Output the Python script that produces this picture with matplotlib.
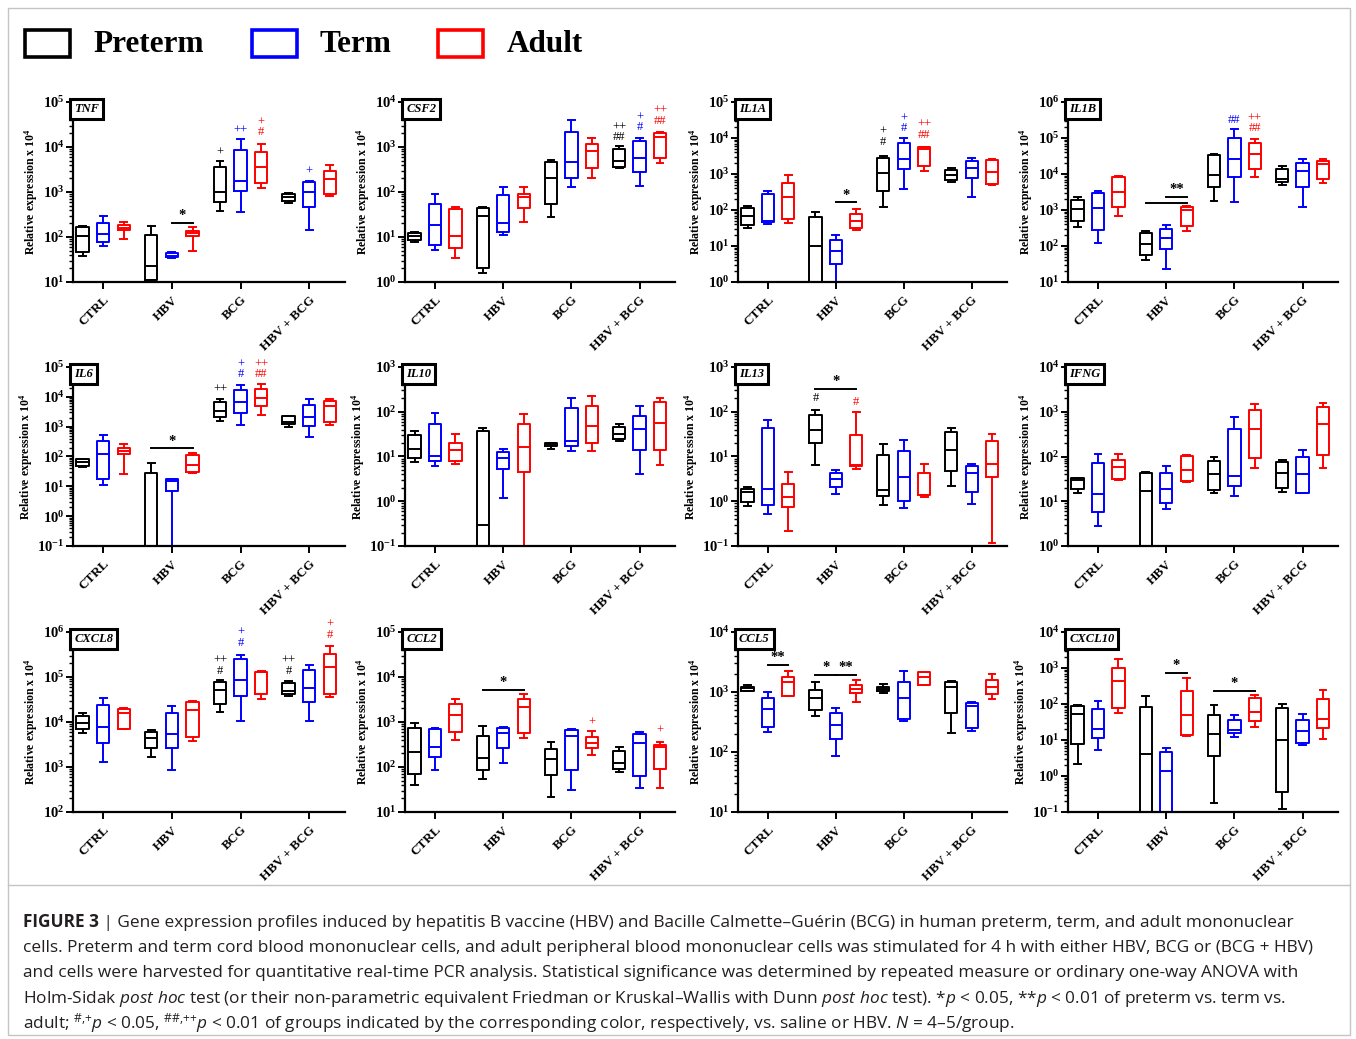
import numpy as np
import matplotlib
matplotlib.use('Agg')
import matplotlib.pyplot as plt
from matplotlib.ticker import LogLocator, FuncFormatter, NullFormatter
from matplotlib.patches import Rectangle
from matplotlib.lines import Line2D

plt.rcParams['font.family'] = ['Liberation Serif', 'DejaVu Serif']
plt.rcParams['mathtext.fontset'] = 'custom'
plt.rcParams['mathtext.rm'] = 'Open Sans'
plt.rcParams['mathtext.it'] = 'Open Sans:italic'
plt.rcParams['mathtext.bf'] = 'Open Sans:bold'

categorias = ['CTRL', 'HBV', 'BCG', 'HBV + BCG']
grupos = ['Preterm', 'Term', 'Adult']
cores = ['black', '#0000ff', '#ff0000']

# (min, q1, mediana, q3, max) para CTRL, HBV, BCG, HBV + BCG
tnf_pre = [(38, 46, 107, 165, 178), (11, 11, 23, 112, 177), (380, 590, 980, 3560, 4900), (580, 640, 760, 900, 970)]
tnf_ter = [(62, 79, 118, 204, 294), (35, 36, 38, 44, 47), (355, 1070, 1780, 8500, 14800), (144, 475, 1000, 1700, 1780)]
tnf_adu = [(90, 140, 160, 185, 220), (48, 103, 121, 139, 170), (1200, 1550, 3560, 7800, 11500), (810, 900, 1950, 2970, 3900)]

csf2_pre = [(7.6, 8.7, 10.3, 12.2, 13.2), (1.6, 2.1, 30, 45, 47), (28, 54, 210, 470, 510), (335, 355, 495, 900, 1050)]
csf2_ter = [(5.2, 6.5, 18.6, 54, 90), (10.8, 13.2, 21, 86, 131), (131, 200, 470, 2170, 3920), (136, 280, 565, 1380, 1620)]
csf2_adu = [(3.5, 5.6, 10.3, 42, 46), (22, 43, 76, 90, 131), (200, 345, 810, 1150, 1590), (430, 560, 1670, 2000, 2170)]

il1a_pre = [(32, 39, 69, 112, 133), (1, 1, 9.7, 63, 87), (124, 335, 1100, 2700, 3200), (590, 680, 930, 1290, 1490)]
il1a_ter = [(41, 45, 48, 278, 345), (1, 3.2, 7.1, 15, 20), (375, 1370, 2530, 7100, 9700), (235, 790, 1490, 2340, 2700)]
il1a_adu = [(43, 55, 225, 550, 930), (27, 31, 51, 78, 107), (1230, 1660, 5100, 5460, 5700), (495, 515, 1150, 2450, 2630)]

il1b_pre = [(348, 500, 1050, 1900, 2250), (42, 55, 115, 237, 262), (1820, 4270, 9300, 33000, 37000), (5100, 5900, 7300, 13700, 17000)]
il1b_ter = [(120, 280, 1170, 2900, 3440), (23, 82, 165, 300, 390), (1640, 8000, 25400, 97000, 183000), (1200, 4270, 12000, 20400, 25400)]
il1b_adu = [(690, 1200, 3080, 8100, 8800), (262, 370, 1000, 1200, 1330), (8400, 13400, 35000, 74000, 93000), (5500, 7100, 18500, 23400, 25700)]

il6_pre = [(45, 48, 63, 81, 85), (0.1, 0.1, 0.1, 29, 61), (1500, 2130, 3390, 6800, 8300), (970, 1250, 1450, 2300, 2300)]
il6_ter = [(11.5, 18, 120, 325, 540), (0.1, 6.9, 14.8, 18, 18), (1170, 2950, 6800, 17400, 25600), (455, 1050, 2130, 5500, 8700)]
il6_adu = [(26, 120, 155, 195, 270), (27, 31, 51, 110, 130), (2400, 4800, 9100, 18600, 27500), (1170, 1440, 4900, 7200, 8300)]

il10_pre = [(7.6, 9.1, 14.4, 30, 37), (0.1, 0.1, 0.29, 37, 44), (15, 17, 18.6, 20.5, 20.5), (22, 24.4, 31.7, 44.6, 52)]
il10_ter = [(6.2, 7.9, 10.2, 53, 96), (1.2, 5.2, 9.4, 12.7, 15), (13.2, 17.4, 22.5, 124, 208), (4.0, 13.9, 40.6, 81, 132)]
il10_adu = [(6.9, 8, 13.8, 20.5, 32), (0.1, 4.6, 16.6, 53, 88), (13.4, 20, 48, 132, 222), (6.6, 13.9, 56, 166, 208)]

il13_pre = [(0.78, 0.98, 1.62, 1.87, 2.04), (6.5, 20, 39, 83, 107), (0.82, 1.3, 1.78, 10.7, 18.6), (2.2, 4.8, 13.9, 34.6, 44)]
il13_ter = [(0.52, 0.82, 1.87, 44, 65), (1.48, 2.04, 3.2, 4.2, 5.1), (0.72, 1.0, 3.5, 13.4, 23), (0.85, 1.58, 4.2, 6.0, 6.9)]
il13_adu = [(0.22, 0.73, 1.23, 2.4, 4.4), (5.2, 6.0, 6.6, 30, 100), (1.26, 1.38, 1.4, 4.2, 6.9), (0.115, 3.4, 6.7, 22.4, 31.7)]

ifng_pre = [(15, 18.4, 29.6, 33.4, 33.4), (1, 1, 16.8, 42, 44), (15, 17.8, 40, 79, 98), (16.3, 19.4, 43, 76, 83)]
ifng_ter = [(2.8, 5.8, 14.5, 72, 113), (6.6, 9.3, 18.4, 42, 61), (13.2, 22.2, 36.5, 407, 744), (15, 15.4, 40, 95, 138)]
ifng_adu = [(29.6, 31, 59, 83, 113), (27, 28.6, 51, 103, 107), (54, 93, 420, 1070, 1520), (56, 107, 526, 1290, 1590)]

cxcl8_pre = [(5600, 6900, 9400, 13800, 16200), (1650, 2700, 4350, 6100, 6650), (16300, 25700, 51000, 78000, 85000), (38000, 41000, 49000, 72000, 83000)]
cxcl8_ter = [(1260, 3400, 7600, 24000, 33400), (870, 2700, 5300, 15600, 23000), (10700, 38000, 85000, 246000, 316000), (10500, 28000, 58000, 142000, 183000)]
cxcl8_adu = [(6900, 6900, 15600, 19000, 21000), (3800, 4600, 18500, 27500, 29000), (32000, 42000, 126000, 130000, 137000), (36700, 42000, 170000, 324000, 480000)]

ccl2_pre = [(39, 71, 213, 750, 970), (55, 84, 157, 490, 830), (22, 65, 149, 253, 355), (79, 91, 121, 228, 275)]
ccl2_ter = [(87, 165, 285, 690, 725), (125, 270, 580, 725, 760), (31, 87, 490, 665, 700), (34, 64, 336, 537, 610)]
ccl2_adu = [(390, 590, 1420, 2460, 3170), (450, 560, 2190, 3240, 4170), (186, 262, 336, 457, 630), (35, 91, 275, 310, 365)]

ccl5_pre = [(1050, 1050, 1150, 1230, 1290), (405, 500, 800, 1100, 1450), (955, 1030, 1120, 1230, 1370), (205, 445, 1200, 1450, 1550)]
ccl5_ter = [(213, 258, 520, 800, 1000), (87, 165, 283, 447, 537), (324, 357, 800, 1450, 2240), (227, 252, 580, 650, 690)]
ccl5_adu = [(870, 870, 1450, 1810, 2240), (680, 955, 1120, 1290, 1590), (1290, 1320, 1780, 2150, 2150), (770, 910, 1200, 1560, 2000)]

cxcl10_pre = [(2.2, 7.8, 53, 87, 91), (0.1, 0.1, 4.06, 81, 170), (0.18, 3.5, 14.7, 50, 91), (0.12, 0.35, 10, 78, 100)]
cxcl10_ter = [(5.4, 11.3, 20, 72, 124), (0.1, 0.1, 1.38, 4.7, 6.0), (12.3, 15.2, 19.4, 37, 50), (7.4, 8.1, 18.2, 36, 53)]
cxcl10_adu = [(55, 76, 445, 1020, 1820), (12.6, 13.8, 50, 235, 535), (23.4, 33, 61, 145, 182), (10.7, 21.4, 38, 138, 245)]

# barras de significancia: (categoria, grupo de, grupo ate, y, texto)
tnf_barras = [(1, 1, 2, 205, '*')]
il1a_barras = [(1, 1, 2, 163, '*')]
il1b_barras = [(1, 0, 2, 1590, ''), (1, 1, 2, 2340, '**')]
il6_barras = [(1, 0, 2, 186, '*')]
il13_barras = [(1, 0, 2, 330, '*')]
ccl2_barras = [(1, 0, 2, 5250, '*')]
ccl5_barras = [(0, 1, 2, 2820, '**'), (1, 0, 1, 1950, '*'), (1, 1, 2, 1950, '**')]
cxcl10_barras = [(1, 1, 2, 720, '*'), (2, 0, 2, 235, '*')]

# simbolos: (categoria, grupo, texto, y da base)
tnf_simb = [(2, 0, '+', 5400), (2, 1, '++', 17000), (2, 2, '+\n#', 15500), (3, 1, '+', 2100)]
csf2_simb = [(3, 0, '++\n##', 1200), (3, 1, '+\n#', 2000), (3, 2, '++\n##', 2800)]
il1a_simb = [(2, 0, '+\n#', 5400), (2, 1, '+\n#', 12700), (2, 2, '++\n##', 8300)]
il1b_simb = [(2, 1, '##', 217000), (2, 2, '++\n##', 126000)]
il6_simb = [(2, 0, '++', 11200), (2, 1, '+\n#', 36000), (2, 2, '++\n##', 35500)]
il13_simb = [(1, 0, '#', 147), (1, 2, '#', 123)]
cxcl8_simb = [(2, 0, '++\n#', 102000), (2, 1, '+\n#', 427000), (3, 0, '++\n#', 102000), (3, 2, '+\n#', 630000)]
ccl2_simb = [(2, 2, '+', 700), (3, 2, '+', 480)]

# (gene, expoente min, expoente max, dados, barras, simbolos)
paineis = [
    ('TNF', 1, 5, [tnf_pre, tnf_ter, tnf_adu], tnf_barras, tnf_simb),
    ('CSF2', 0, 4, [csf2_pre, csf2_ter, csf2_adu], [], csf2_simb),
    ('IL1A', 0, 5, [il1a_pre, il1a_ter, il1a_adu], il1a_barras, il1a_simb),
    ('IL1B', 1, 6, [il1b_pre, il1b_ter, il1b_adu], il1b_barras, il1b_simb),
    ('IL6', -1, 5, [il6_pre, il6_ter, il6_adu], il6_barras, il6_simb),
    ('IL10', -1, 3, [il10_pre, il10_ter, il10_adu], [], []),
    ('IL13', -1, 3, [il13_pre, il13_ter, il13_adu], il13_barras, il13_simb),
    ('IFNG', 0, 4, [ifng_pre, ifng_ter, ifng_adu], [], []),
    ('CXCL8', 2, 6, [cxcl8_pre, cxcl8_ter, cxcl8_adu], [], cxcl8_simb),
    ('CCL2', 1, 5, [ccl2_pre, ccl2_ter, ccl2_adu], ccl2_barras, ccl2_simb),
    ('CCL5', 1, 4, [ccl5_pre, ccl5_ter, ccl5_adu], ccl5_barras, []),
    ('CXCL10', -1, 4, [cxcl10_pre, cxcl10_ter, cxcl10_adu], cxcl10_barras, []),
]

legenda = [(25, 93, 'Preterm'), (252, 320, 'Term'), (438, 507, 'Adult')]

legenda_texto = [
    ' | Gene expression profiles induced by hepatitis B vaccine (HBV) and Bacille Calmette–Guérin (BCG) in human preterm, term, and adult mononuclear',
    'cells. Preterm and term cord blood mononuclear cells, and adult peripheral blood mononuclear cells was stimulated for 4 h with either HBV, BCG or (BCG + HBV)',
    'and cells were harvested for quantitative real-time PCR analysis. Statistical significance was determined by repeated measure or ordinary one-way ANOVA with',
    r'Holm-Sidak $\mathit{post\ hoc}$ test (or their non-parametric equivalent Friedman or Kruskal–Wallis with Dunn $\mathit{post\ hoc}$ test). *$\mathit{p}$ < 0.05, **$\mathit{p}$ < 0.01 of preterm vs. term vs.',
    r'adult; $^{\mathrm{\#{,}{+}}}\mathit{p}$ < 0.05, $^{\mathrm{\#\#{,}{+}{+}}}\mathit{p}$ < 0.01 of groups indicated by the corresponding color, respectively, vs. saline or HBV. $\mathit{N}$ = 4–5/group.',
]

W, H = 1356, 1039
fig = plt.figure(figsize=(13.56, 10.39), dpi=100)

esq = [73, 405, 738, 1068]
dir_ = [345, 675, 1007, 1338]
topo = [102, 367, 632]
base = [282, 546, 812]


def rotulo_y(v, pos):
    return r'$\mathregular{10^{%d}}$' % int(round(np.log10(v)))


desloc = 0.3
for k, (gene, e0, e1, dados, barras, simbolos) in enumerate(paineis):
    lin, col = divmod(k, 4)
    ax = fig.add_axes([esq[col] / W, 1 - base[lin] / H,
                       (dir_[col] - esq[col]) / W, (base[lin] - topo[lin]) / H])
    ax.set_yscale('log')
    for g in range(3):
        stats = [dict(whislo=s[0], q1=s[1], med=s[2], q3=s[3], whishi=s[4], fliers=[])
                 for s in dados[g]]
        pos = [i + (g - 1) * desloc for i in range(4)]
        props = dict(color=cores[g], linewidth=1.4)
        ax.bxp(stats, positions=pos, widths=0.18, capwidths=0.1, showfliers=False,
               boxprops=props, whiskerprops=props, capprops=props, medianprops=props,
               manage_ticks=False)
    ax.set_ylim(10.0 ** e0, 10.0 ** e1)
    ax.set_xlim(-0.44, 3.52)

    for cat, g1, g2, y, txt in barras:
        x1 = cat + (g1 - 1) * desloc
        x2 = cat + (g2 - 1) * desloc
        ax.plot([x1, x2], [y, y], color='black', lw=1.4, clip_on=False)
        if txt:
            ax.annotate(txt, xy=((x1 + x2) / 2, y), xytext=(0, 0.5), textcoords='offset points',
                        ha='center', va='bottom', fontsize=10.5, fontweight='bold',
                        annotation_clip=False)
    for cat, g, txt, y in simbolos:
        ax.text(cat + (g - 1) * desloc, y, txt, color=cores[g], ha='center', va='bottom',
                fontsize=9, linespacing=0.78, clip_on=False)

    ax.text(0.004, 0.995, gene, transform=ax.transAxes, ha='left', va='top', fontsize=9,
            fontstyle='italic', fontweight='bold',
            bbox=dict(boxstyle='square,pad=0.32', fc='white', ec='black', lw=2.2))

    for s in ['top', 'right']:
        ax.spines[s].set_visible(False)
    for s in ['left', 'bottom']:
        ax.spines[s].set_linewidth(1.6)
    ax.yaxis.set_major_locator(LogLocator(base=10, numticks=20))
    ax.yaxis.set_minor_locator(LogLocator(base=10, subs=np.arange(2, 10), numticks=100))
    ax.yaxis.set_major_formatter(FuncFormatter(rotulo_y))
    ax.yaxis.set_minor_formatter(NullFormatter())
    ax.tick_params(axis='y', which='major', length=5, width=1.4, labelsize=10.5, pad=1)
    ax.tick_params(axis='y', which='minor', length=3, width=1.0)
    for t in ax.get_yticklabels():
        t.set_fontweight('bold')
    ax.set_xticks(range(4))
    ax.set_xticklabels(categorias, rotation=45, ha='right', rotation_mode='anchor',
                       fontsize=9.5, fontweight='bold')
    ax.tick_params(axis='x', length=5, width=1.4)
    ax.set_ylabel(r'Relative expression x $\mathregular{10^{4}}$', fontsize=8.5,
                  fontweight='bold', labelpad=2)

# legenda do topo
for g, (xq, xt, nome) in enumerate(legenda):
    fig.add_artist(Rectangle((xq / W, 1 - 57 / H), 45 / W, 27 / H, transform=fig.transFigure,
                             fill=False, ec=cores[g], lw=2.6))
    fig.text(xt / W, 1 - 44 / H, nome, fontsize=22.5, fontweight='bold', va='center', ha='left')

# moldura
fig.add_artist(Rectangle((8 / W, 1 - 1035 / H), 1342 / W, 1027 / H, transform=fig.transFigure,
                         fill=False, ec='#c4c4c4', lw=1))
fig.add_artist(Line2D([8 / W, 1350 / W], [1 - 885 / H, 1 - 885 / H], color='#c4c4c4', lw=1))

# legenda da figura
cor_txt = '#231f20'
tam = 12.45
y_linhas = [927, 952, 977, 1003, 1028]
r = fig.canvas.get_renderer()
t0 = fig.text(23 / W, 1 - y_linhas[0] / H, 'FIGURE 3', fontsize=tam, fontweight='bold',
              family='Open Sans', va='baseline', color=cor_txt)
bb = t0.get_window_extent(r)
for i, linha in enumerate(legenda_texto):
    x0 = bb.x1 / W if i == 0 else 23 / W
    fig.text(x0, 1 - y_linhas[i] / H, linha, fontsize=tam, family='Open Sans',
             va='baseline', color=cor_txt)

fig.savefig('out.png', dpi=100)
